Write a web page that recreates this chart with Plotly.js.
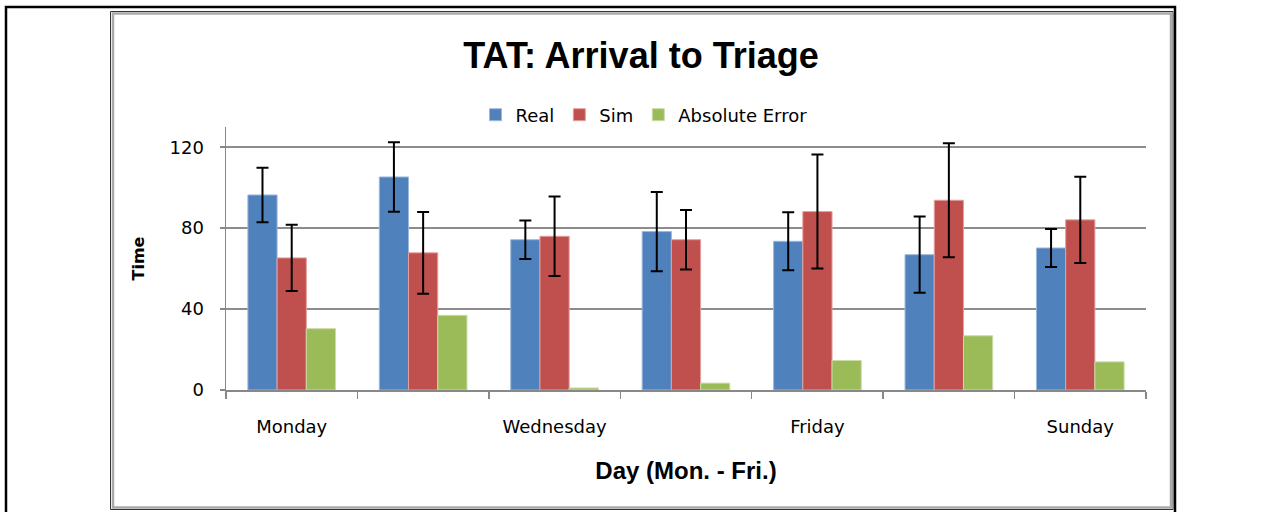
<!DOCTYPE html>
<html>
<head>
<meta charset="utf-8">
<script src="https://cdn.plot.ly/plotly-3.0.1.min.js"></script>
<style>html,body{margin:0;padding:0;background:#fff;}#chart{width:1279px;height:512px;}</style>
</head>
<body>
<div id="chart"></div>
<script>
const days = ['Monday','Tuesday','Wednesday','Thursday','Friday','Saturday','Sunday'];
const tickLabels = ['Monday','','Wednesday','','Friday','','Sunday'];
const realValues = [96.4, 105.3, 74.3, 78.3, 73.5, 66.9, 70.2];
const realErrors = [13.5, 17.2, 9.5, 19.6, 14.3, 18.8, 9.4];
const simValues = [65.3, 67.8, 76.0, 74.3, 88.2, 93.8, 84.1];
const simErrors = [16.4, 20.2, 19.7, 14.7, 28.2, 28.2, 21.3];
const absErrorValues = [30.3, 36.9, 1.0, 3.4, 14.6, 26.8, 13.9];

const errStyle = (arr) => ({type:'data', array: arr, visible:true, color:'#000', thickness:2, width:6});

const traces = [
  {type:'bar', name:'Real', x:days, y:realValues, error_y: errStyle(realErrors),
   marker:{color:'#4F81BD', line:{color:'#9DB8DE', width:1}}},
  {type:'bar', name:'Sim', x:days, y:simValues, error_y: errStyle(simErrors),
   marker:{color:'#C0504D', line:{color:'#E3A09E', width:1}}},
  {type:'bar', name:'Absolute Error', x:days, y:absErrorValues,
   marker:{color:'#9BBB59', line:{color:'#CADBA6', width:1}}}
];

function px(x){ return (x-226)/920; }
function py(y){ return (390-y)/263; }

const layout = {
  width:1279, height:512,
  margin:{l:226, r:133, t:127, b:122, pad:0, autoexpand:false},
  paper_bgcolor:'#fff', plot_bgcolor:'#fff',
  barmode:'group', bargap:0.333, bargroupgap:0,
  font:{family:'DejaVu Sans, Verdana, sans-serif', color:'#000'},
  title:{text:'<b>TAT: Arrival to Triage</b>', font:{size:36, family:'Liberation Sans, Arial', color:'#000'},
         x:641/1279, xref:'container', xanchor:'center', y:1-(55/512), yanchor:'middle', yref:'container'},
  showlegend:true,
  legend:{orientation:'h', x:px(644), xref:'paper', xanchor:'center', y:py(115), yanchor:'middle',
          font:{size:18, family:'DejaVu Sans, Verdana', color:'#000'}, itemwidth:30, tracegroupgap:0},
  xaxis:{type:'category', categoryorder:'array', categoryarray:days,
         tickmode:'array', tickvals:days, ticktext:tickLabels, tickangle:0,
         tickson:'boundaries', ticks:'outside', ticklen:7, tickcolor:'#888', tickwidth:1.5,
         showline:true, linecolor:'#888', linewidth:1.5, showgrid:false,
         tickfont:{size:18, family:'DejaVu Sans, Verdana', color:'#000'},
         ticklabelstandoff:20,
         title:{text:'<b>Day (Mon. - Fri.)</b>', font:{size:24, family:'Liberation Sans, Arial', color:'#000'}, standoff:26}},
  yaxis:{range:[0,130], tickvals:[0,40,80,120], ticks:'outside', ticklen:5, tickcolor:'#888', tickwidth:1.5,
         showline:true, linecolor:'#888', linewidth:1.5,
         showgrid:true, gridcolor:'#8c8c8c', gridwidth:1.5, zeroline:false,
         tickfont:{size:18, family:'DejaVu Sans, Verdana', color:'#000'},
         ticklabelstandoff:12,
         title:{text:'<b>Time</b>', font:{size:16, family:'DejaVu Sans, Verdana', color:'#000'}, standoff:21}},
  shapes:[
    {type:'rect', xref:'paper', yref:'paper', x0:px(6), x1:px(1175), y0:py(7), y1:py(520),
     line:{color:'#000', width:2.5}, fillcolor:'rgba(0,0,0,0)', layer:'below'},
    {type:'rect', xref:'paper', yref:'paper', x0:px(110.5), x1:px(1173), y0:py(11.5), y1:py(509.5),
     line:{color:'#333', width:1}, fillcolor:'rgba(0,0,0,0)', layer:'below'},
    {type:'rect', xref:'paper', yref:'paper', x0:px(113), x1:px(1171), y0:py(13.5), y1:py(507.5),
     line:{color:'#aaa', width:2.5}, fillcolor:'rgba(0,0,0,0)', layer:'below'}
  ]
};

Plotly.newPlot('chart', traces, layout, {staticPlot:true, displayModeBar:false});
</script>
</body>
</html>
